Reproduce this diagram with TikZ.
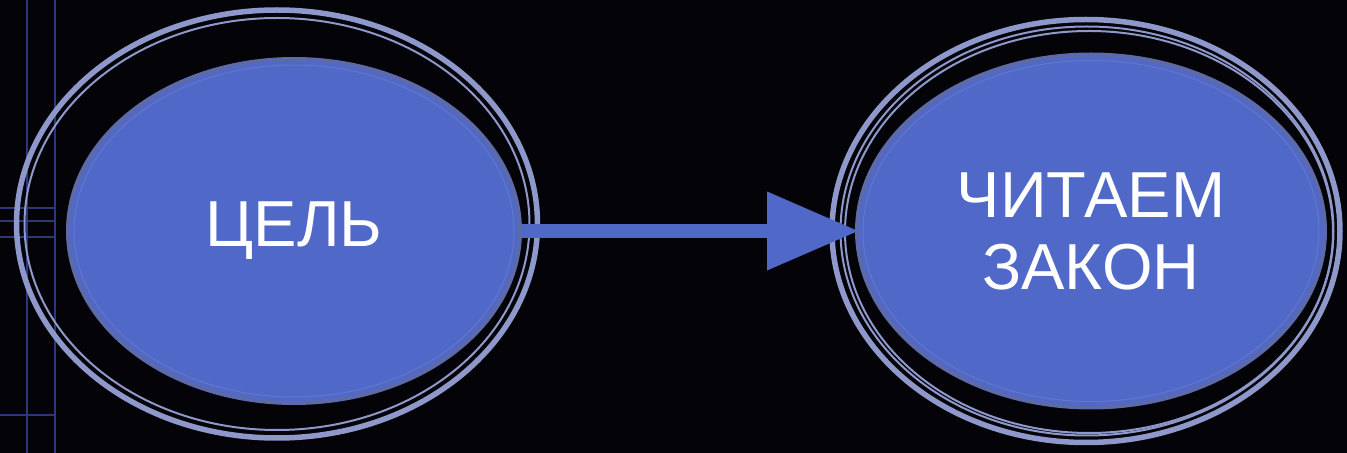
\documentclass[tikz,border=0pt]{standalone}
\usepackage{fontspec}
\setmainfont{Liberation Sans}
\usetikzlibrary{shapes,arrows.meta,positioning}
\definecolor{bgblack}{RGB}{3,3,8}
\definecolor{blobfill}{RGB}{80,104,200}
\definecolor{blobedge}{RGB}{92,106,170}
\definecolor{ringlav}{RGB}{142,152,202}
\definecolor{gridblue}{RGB}{44,56,120}

\begin{document}
\begin{tikzpicture}[
    blob/.style={ellipse, inner sep=0pt, fill=blobfill, draw=blobedge, line width=0.04cm,
                 text=white, align=center, font=\fontsize{18.5}{20.5}\selectfont},
    ring/.style={ellipse, inner sep=0pt, draw=ringlav, line width=0.055cm},
    thinring/.style={ellipse, inner sep=0pt, draw=ringlav, line width=0.02cm},
    gridline/.style={draw=gridblue, line width=0.02cm},
]

% Background
\fill[bgblack] (0,0) rectangle (13.47,4.53);
\useasboundingbox (0,0) rectangle (13.47,4.53);

% Grid lines on the left edge
\draw[gridline] (0.27,0) -- (0.27,4.53);
\draw[gridline] (0.55,0) -- (0.55,4.53);
\foreach \y in {2.45,2.32,2.16,0.38} {
    \draw[gridline] (0,\y) -- (0.55,\y);
}

% Rings round the left node
\node[ring, minimum width=5.21cm, minimum height=4.28cm] (celring) at (2.77,2.29) {};
\node[thinring, minimum width=5.05cm, minimum height=4.12cm] (celringin) at (2.77,2.29) {};

% Rings round the right node
\node[ring, minimum width=5.08cm, minimum height=4.23cm] (zakonring) at (10.86,2.22) {};
\node[thinring, minimum width=4.93cm, minimum height=4.09cm] (zakonringin) at (10.87,2.22) {};
\node[thinring, minimum width=4.88cm, minimum height=4.02cm] (zakonringin2) at (10.89,2.21) {};

% Main nodes
\node[blob, minimum width=4.52cm, minimum height=3.44cm] (cel) at (2.94,2.22) {ЦЕЛЬ};
\node[blob, minimum width=4.68cm, minimum height=3.53cm] (zakon) at (10.91,2.22) {ЧИТАЕМ\\ЗАКОН};

% Thin light line inside the fill
\node[thinring, draw=blobfill!70!ringlav, line width=0.01cm, minimum width=4.40cm, minimum height=3.32cm] (celline) at (cel.center) {};
\node[thinring, draw=blobfill!70!ringlav, line width=0.01cm, minimum width=4.56cm, minimum height=3.41cm] (zakonline) at (zakon.center) {};

% Connection
\draw[blobfill, line width=0.14cm, -{Triangle[length=0.92cm,width=0.75cm]}] (cel.east) -- ([xshift=0.04cm]zakon.west);

\end{tikzpicture}
\end{document}
